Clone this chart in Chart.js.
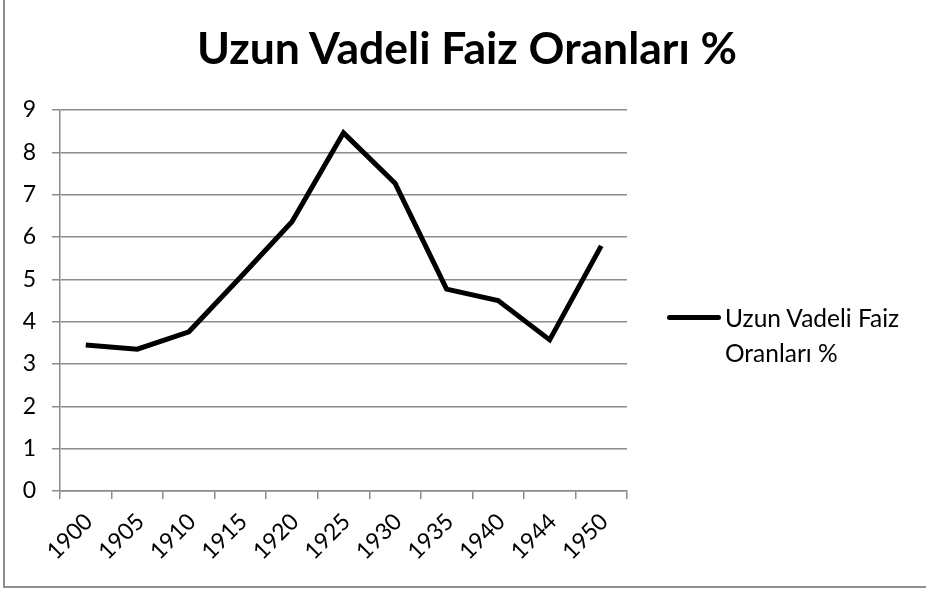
<!DOCTYPE html>
<html lang="tr">
<head>
    <meta charset="UTF-8">
    <title>Uzun Vadeli Faiz Oranları %</title>
    <script src="https://cdn.jsdelivr.net/npm/chart.js"></script>
    <style>
        body { margin: 0; background: #fff; }
        #wrap { position: relative; width: 926px; height: 593px; overflow: hidden; }
        #frame { position: absolute; left: 3px; top: -5px; width: 960px; height: 593px;
                 border-left: 2px solid #8f8f8f; border-bottom: 2px solid #8f8f8f; box-sizing: border-box; }
        #title { position: absolute; left: 0; width: 934px; top: 20px; text-align: center;
                 font-family: Lato, sans-serif; font-weight: bold; font-size: 44.5px; line-height: 53px; color: #000; }
        #legend { position: absolute; left: 667px; top: 300px; font-family: Lato, sans-serif;
                  font-size: 24.5px; line-height: 35px; color: #000; }
        #legend .line { position: absolute; left: 0; top: 15px; width: 54px; height: 5px;
                        background: #000; border-radius: 3px; }
        #legend .txt { position: absolute; left: 58px; top: 0; white-space: nowrap; }
    </style>
</head>
<body>
<div id="wrap">
    <canvas id="myChart" width="926" height="593"></canvas>
    <div id="frame"></div>
    <div id="title">Uzun Vadeli Faiz Oranları %</div>
    <div id="legend"><div class="line"></div><div class="txt">Uzun Vadeli Faiz<br>Oranları %</div></div>
</div>

<script>
    const seriesName = 'Uzun Vadeli Faiz Oranları %';
    const years = ['1900', '1905', '1910', '1915', '1920', '1925', '1930', '1935', '1940', '1944', '1950'];
    const rates = [3.45, 3.35, 3.76, 5.05, 6.36, 8.46, 7.27, 4.77, 4.50, 3.57, 5.79];
    const yMin = 0;
    const yMax = 9;

    const gridColor = '#8c8c8c';

    const ctx = document.getElementById('myChart').getContext('2d');
    new Chart(ctx, {
        type: 'line',
        data: {
            labels: years,
            datasets: [{
                label: seriesName,
                data: rates,
                borderColor: '#000',
                borderWidth: 5,
                pointRadius: 0,
                tension: 0,
                fill: false
            }]
        },
        options: {
            responsive: false,
            animation: false,
            layout: { padding: { left: 0, right: 299, top: 110, bottom: 0 } },
            plugins: {
                legend: { display: false },
                tooltip: { enabled: false },
                title: { display: false }
            },
            scales: {
                x: {
                    offset: true,
                    grid: { offset: true, drawOnChartArea: false, color: gridColor, tickLength: 8, lineWidth: 1.5 },
                    border: { color: gridColor, width: 1.5 },
                    ticks: {
                        color: '#000',
                        font: { family: 'Lato', size: 23 },
                        maxRotation: 45,
                        minRotation: 45,
                        padding: 9,
                        labelOffset: 3
                    },
                    afterFit: function (scale) { scale.height = 102; }
                },
                y: {
                    min: yMin,
                    max: yMax,
                    grid: { color: gridColor, tickLength: 8, lineWidth: 1.5 },
                    border: { color: gridColor, width: 1.5 },
                    ticks: {
                        stepSize: 1,
                        color: '#000',
                        font: { family: 'Lato', size: 23 },
                        padding: 16
                    },
                    afterFit: function (scale) { scale.width = 60; }
                }
            }
        }
    });
</script>
</body>
</html>
